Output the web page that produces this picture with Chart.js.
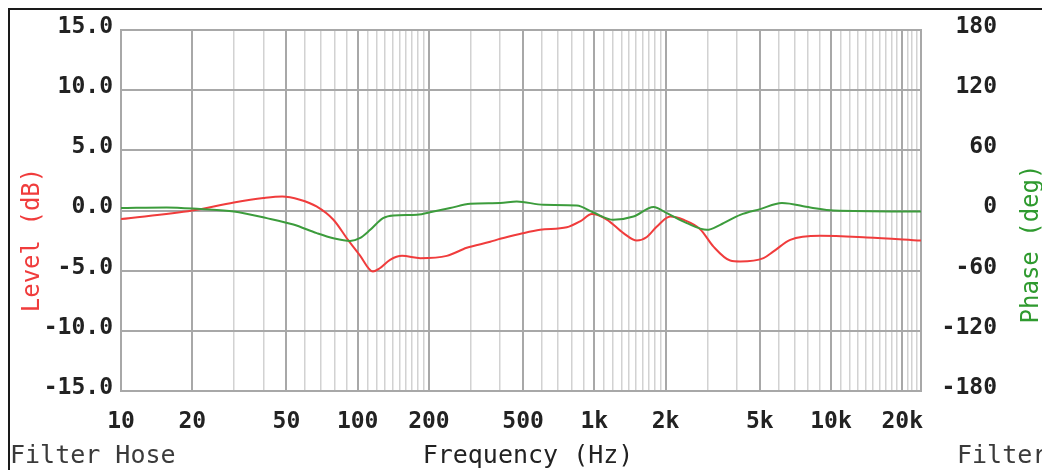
<!DOCTYPE html>
<html><head><meta charset="utf-8">
<script src="https://cdn.jsdelivr.net/npm/chart.js@4.4.1/dist/chart.umd.min.js"></script>
<style>html,body{margin:0;padding:0;background:#fff;overflow:hidden}#wrap{width:1042px;height:470px;position:relative}</style>
</head><body><div id="wrap"><canvas id="c" width="1042" height="470"></canvas></div>
<script>
// ---- data ----
const levelFreq = [10, 20, 30, 40, 48, 57, 67, 79, 91, 102, 116, 124, 137, 154, 184, 238, 289, 363, 400, 484, 590, 765, 871, 976, 1129, 1327, 1512, 1667, 1838, 2092, 2381, 2800, 3187, 3750, 4133, 5185, 5715, 6723, 9003, 14180, 24000];
const levelDb   = [-0.71, 0.0, 0.67, 1.04, 1.17, 0.9, 0.34, -0.77, -2.44, -3.7, -5.07, -4.8, -4.1, -3.77, -3.96, -3.77, -3.1, -2.6, -2.35, -1.95, -1.6, -1.4, -0.9, -0.3, -0.75, -1.88, -2.5, -2.2, -1.33, -0.5, -0.77, -1.55, -3.0, -4.16, -4.24, -3.96, -3.4, -2.44, -2.1, -2.24, -2.5];
const phaseFreq = [10, 15.6, 21.6, 30, 41.3, 53.5, 67.2, 78.9, 92.9, 102, 113, 128, 142, 178, 209, 246, 299, 400, 470, 610, 843, 991, 1204, 1463, 1778, 2025, 2460, 2989, 3402, 4133, 5020, 6202, 8168, 10250, 24000];
const phaseDeg  = [2.4, 3.0, 1.4, -1, -7.6, -14, -22.6, -27.6, -30.3, -27.6, -19.3, -7.6, -4.9, -4.3, -1, 2.4, 6.7, 7.4, 9, 5.7, 5, -2, -9.3, -6, 3.4, -2.6, -12.6, -19.3, -14.3, -4.3, 1.4, 7.4, 3, 0, -1];
const xTickValues = [10, 20, 50, 100, 200, 500, 1000, 2000, 5000, 10000, 20000];
const xTickLabels = ['10', '20', '50', '100', '200', '500', '1k', '2k', '5k', '10k', '20k'];
const xMinorGrid  = [30, 40, 60, 70, 80, 90, 110, 120, 130, 140, 150, 160, 170, 180, 190, 300, 400, 600, 700, 800, 900, 1100, 1200, 1300, 1400, 1500, 1600, 1700, 1800, 1900, 3000, 4000, 6000, 7000, 8000, 9000, 11000, 12000, 13000, 14000, 15000, 16000, 17000, 18000, 19000, 21000, 22000, 23000, 24000];
const levelTicks = [-15, -10, -5, 0, 5, 10, 15];
const phaseTicks = [-180, -120, -60, 0, 60, 120, 180];
const levelTitle = 'Level (dB)';
const phaseTitle = 'Phase (deg)';
const xTitle = 'Frequency (Hz)';
const cornerText = 'Filter Hose';

const MONO = '"DejaVu Sans Mono", "Liberation Mono", monospace';
const allX = xTickValues.concat(xMinorGrid).sort((a, b) => a - b);

const decor = {
  id: 'decor',
  afterDraw(chart) {
    const c = chart.ctx;
    c.save();
    c.strokeStyle = '#1a1a1a'; c.lineWidth = 2;
    c.beginPath(); c.moveTo(9, 470); c.lineTo(9, 9); c.lineTo(1042, 9); c.stroke();
    c.font = '25px ' + MONO;
    c.fillStyle = '#3a3a3a'; c.textBaseline = 'alphabetic'; c.textAlign = 'left';
    c.fillText(cornerText, 10, 463);
    c.fillText(cornerText, 957, 463);
    c.fillStyle = '#222';
    c.textAlign = 'center';
    c.fillText(xTitle, 528, 463);
    c.font = '24px ' + MONO;
    c.textBaseline = 'middle';
    c.save(); c.translate(33, 240); c.rotate(-Math.PI / 2);
    c.fillStyle = '#f03c3c'; c.fillText(levelTitle, 0, 0); c.restore();
    c.save(); c.translate(1032, 244); c.rotate(-Math.PI / 2);
    c.fillStyle = '#2f9a2f'; c.fillText(phaseTitle, 0, 0); c.restore();
    c.restore();
  }
};

new Chart(document.getElementById('c'), {
  type: 'line',
  data: {
    datasets: [
      { label: 'Phase', data: phaseFreq.map((f, i) => ({ x: f, y: phaseDeg[i] })), yAxisID: 'yR',
        borderColor: '#3c9c3c', borderWidth: 2, pointRadius: 0, cubicInterpolationMode: 'monotone', fill: false },
      { label: 'Level', data: levelFreq.map((f, i) => ({ x: f, y: levelDb[i] })), yAxisID: 'yL',
        borderColor: '#f03c3c', borderWidth: 2, pointRadius: 0, cubicInterpolationMode: 'monotone', fill: false }
    ]
  },
  options: {
    responsive: false, animation: false, devicePixelRatio: 1,
    layout: { padding: { top: 30, left: 0, right: 45, bottom: 0 } },
    plugins: { legend: { display: false }, tooltip: { enabled: false } },
    scales: {
      x: {
        type: 'logarithmic', min: 10, max: 24000, position: 'bottom',
        afterBuildTicks: s => { s.ticks = allX.map(v => ({ value: v })); },
        afterFit: s => { s.height = 79; },
        ticks: {
          autoSkip: false, maxRotation: 0, minRotation: 0, padding: 17,
          color: '#222', font: { family: MONO, size: 23, weight: 'bold' },
          callback: v => { const i = xTickValues.indexOf(v); return i >= 0 ? xTickLabels[i] : ''; }
        },
        grid: {
          drawTicks: false,
          color: ctx => (ctx.tick && xTickValues.includes(ctx.tick.value)) ? '#a8a8a8' : '#d2d2d2',
          lineWidth: ctx => (ctx.tick && xTickValues.includes(ctx.tick.value)) ? 2 : 1.5
        },
        border: { color: '#a8a8a8', width: 2 }
      },
      yL: {
        position: 'left', min: -15, max: 15,
        afterBuildTicks: s => { s.ticks = levelTicks.map(v => ({ value: v })); },
        afterFit: s => { s.width = 121; },
        ticks: { padding: 8, labelOffset: -3, color: '#222', font: { family: MONO, size: 23, weight: 'bold' }, callback: v => Number(v).toFixed(1) },
        grid: { drawTicks: false, color: '#a8a8a8', lineWidth: 2 },
        border: { color: '#a8a8a8', width: 2 }
      },
      yR: {
        position: 'right', min: -180, max: 180,
        afterBuildTicks: s => { s.ticks = phaseTicks.map(v => ({ value: v })); },
        afterFit: s => { s.width = 76; },
        ticks: { padding: 0, labelOffset: -3, crossAlign: 'far', color: '#222', font: { family: MONO, size: 23, weight: 'bold' }, callback: v => String(v) },
        grid: { display: false, drawTicks: false },
        border: { color: '#a8a8a8', width: 2 }
      }
    }
  },
  plugins: [decor]
});
</script>
</body></html>
